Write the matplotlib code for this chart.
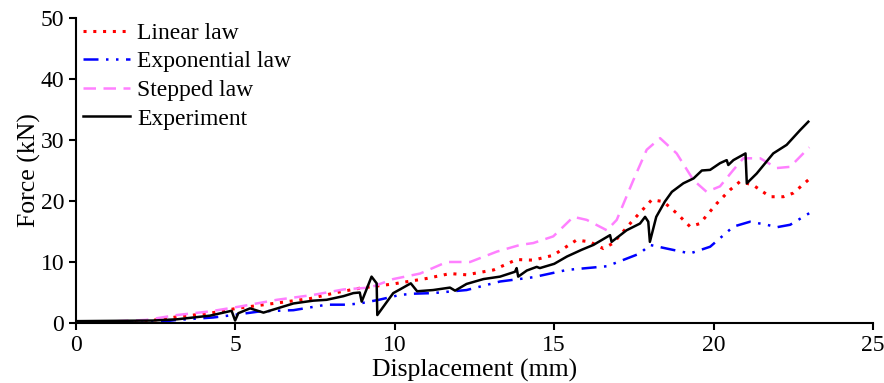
import matplotlib
matplotlib.use("Agg")
import matplotlib.pyplot as plt

plt.rcParams['font.family'] = ['Liberation Serif', 'DejaVu Serif']

# Experiment (black solid)
exp_x = [0, 2.4, 3.16, 4.2, 4.88, 4.99, 5.09, 5.46, 5.88, 6.82, 7.44, 7.86, 8.39, 8.7, 8.9, 8.96,
         9.27, 9.43, 9.45, 9.95, 10.16, 10.5, 10.7, 11.2, 11.73, 11.89, 12.25, 12.78, 13.3, 13.77,
         13.82, 13.87, 14.14, 14.45, 14.55, 15.0, 15.4, 15.86, 16.23, 16.75, 16.8, 17.27, 17.69,
         17.85, 17.95, 18.0, 18.2, 18.47, 18.69, 19.05, 19.37, 19.63, 19.89, 20.2, 20.41, 20.46,
         20.62, 21.0, 21.04, 21.35, 21.87, 22.29, 22.71, 22.97]
exp_y = [0.3, 0.4, 0.6, 1.2, 2.0, 0.4, 1.6, 2.4, 1.7, 3.2, 3.66, 3.8, 4.4, 4.9, 5.0, 3.5,
         7.6, 6.5, 1.3, 4.9, 5.5, 6.5, 5.2, 5.4, 5.8, 5.3, 6.4, 7.2, 7.6, 8.4,
         9.0, 7.6, 8.6, 9.2, 9.0, 9.7, 10.9, 12.0, 12.8, 14.4, 13.3, 15.2, 16.3,
         17.4, 16.6, 13.3, 17.4, 19.9, 21.5, 22.9, 23.7, 25.0, 25.1, 26.2, 26.7, 25.9,
         26.7, 27.8, 22.9, 24.5, 27.8, 29.2, 31.6, 33.0]

# Linear law (red dotted)
lin_x = [0, 2.1, 3.16, 4.2, 5.04, 6.19, 7.34, 8.18, 8.9, 9.95, 11.0, 11.73, 12.25, 13.1, 13.82,
         14.34, 14.97, 15.7, 16.12, 16.54, 16.85, 17.48, 18.06, 18.42, 18.84, 19.26, 19.57, 20.1,
         20.51, 20.83, 21.24, 21.77, 22.19, 22.5, 23.0]
lin_y = [0.0, 0.2, 1.0, 1.6, 2.4, 3.2, 4.0, 5.0, 5.7, 6.4, 7.3, 8.1, 7.9, 8.7, 10.4,
         10.3, 11.1, 13.6, 13.3, 12.2, 13.1, 16.9, 20.2, 19.9, 18.0, 15.8, 16.3, 19.6,
         21.8, 23.2, 22.6, 20.7, 20.7, 21.3, 23.6]

# Exponential law (blue dash-dot)
expo_x = [0, 2.5, 3.16, 4.3, 4.93, 5.77, 6.82, 7.86, 8.49, 8.9, 9.5, 10.16, 10.58, 11.2, 12.25,
          13.3, 14.34, 15.4, 16.65, 17.0, 17.69, 18.0, 18.53, 19.26, 19.89, 20.62, 21.14, 21.67,
          21.98, 22.4, 23.0]
expo_y = [0.0, 0.1, 0.5, 0.9, 1.3, 1.9, 2.1, 3.0, 3.0, 3.2, 3.8, 4.6, 4.8, 4.9, 5.4,
          6.8, 7.5, 8.7, 9.3, 10.0, 11.4, 12.8, 12.2, 11.4, 12.5, 15.8, 16.6, 16.1,
          15.7, 16.1, 18.0]

# Stepped law (pink dashed)
step_x = [0, 2.2, 3.16, 4.2, 5.14, 6.3, 7.44, 8.39, 9.22, 9.95, 10.79, 11.63, 12.36, 13.2,
          13.93, 14.34, 14.97, 15.6, 16.02, 16.65, 16.96, 17.48, 17.9, 18.32, 18.84, 19.37,
          19.78, 20.2, 20.62, 20.93, 21.46, 21.98, 22.4, 23.0]
step_y = [0.0, 0.5, 1.3, 1.9, 2.7, 3.8, 4.6, 5.5, 5.8, 7.2, 8.1, 10.0, 10.0, 11.7,
          12.8, 13.1, 14.2, 17.4, 16.9, 15.2, 16.9, 23.4, 28.4, 30.3, 27.8, 23.4,
          21.5, 22.4, 25.1, 27.0, 27.0, 25.4, 25.6, 28.8]

xticks = [0, 5, 10, 15, 20, 25]
yticks = [0, 10, 20, 30, 40, 50]

fig = plt.figure(figsize=(8.84, 3.83), dpi=100)
ax = fig.add_axes([0.086, 0.1567, 0.9016, 0.7963])

ax.plot(lin_x, lin_y, color='#ff0000', linestyle=(0, (1, 2.2)), lw=2.2, label='Linear law')
ax.plot(expo_x, expo_y, color='#0000ff', linestyle=(0, (6, 3, 1, 3, 1, 3)), lw=1.8, label='Exponential law')
ax.plot(step_x, step_y, color='#ff80ff', linestyle=(0, (5, 3)), lw=1.8, label='Stepped law')
ax.plot(exp_x, exp_y, color='black', linestyle='-', lw=1.8, label='Experiment')

ax.set_xlim(0, 25)
ax.set_ylim(0, 50)
ax.set_xticks(xticks)
ax.set_yticks(yticks)
ax.spines['top'].set_visible(False)
ax.spines['right'].set_visible(False)
for s in ['left', 'bottom']:
    ax.spines[s].set_linewidth(1.5)
ax.tick_params(direction='out', length=5, width=1.5, labelsize=17)
ax.set_xlabel('Displacement (mm)', fontsize=18.5, labelpad=2)
ax.set_ylabel('Force (kN)', fontsize=18.5, labelpad=0)

ax.legend(loc='upper left', frameon=False, fontsize=17, handlelength=2.0,
          borderaxespad=0.0, labelspacing=0.3, handletextpad=0.3,
          bbox_to_anchor=(-0.003, 1.017))

fig.savefig('out.png', dpi=100)
